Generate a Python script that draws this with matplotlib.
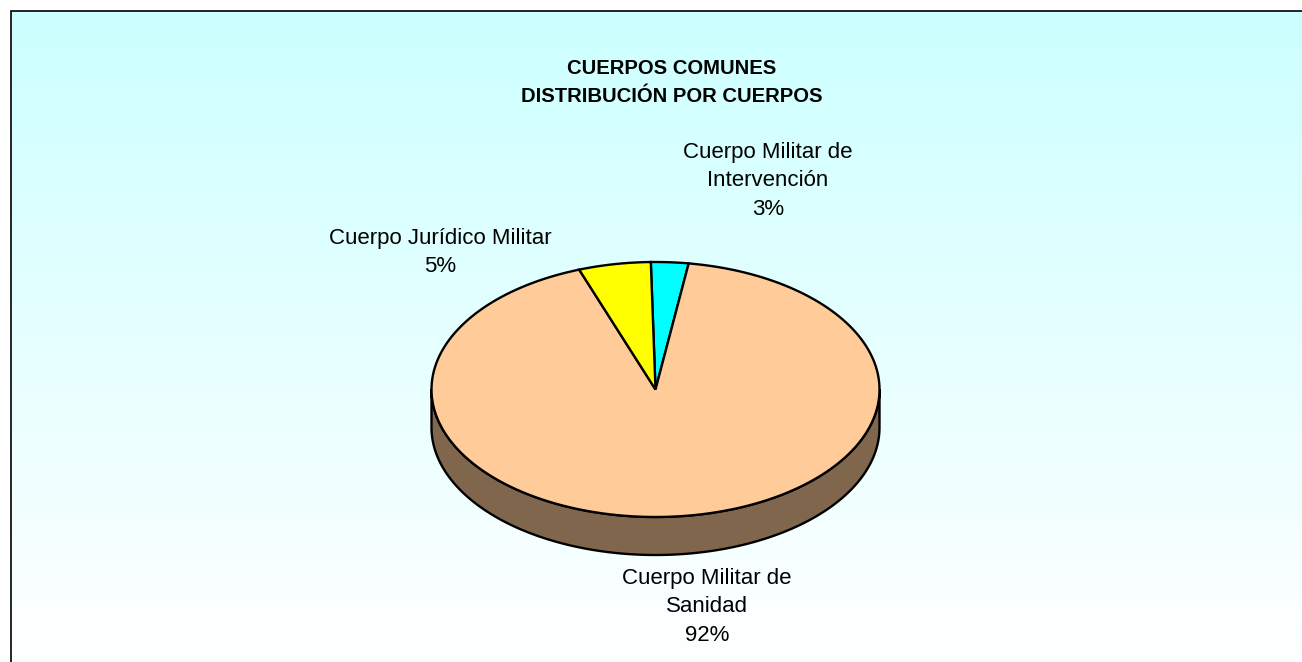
import numpy as np
import matplotlib.pyplot as plt
from matplotlib.patches import Polygon
from matplotlib.colors import to_rgb

plt.rcParams['font.family'] = ['Liberation Sans', 'DejaVu Sans']

# Data: shares, clockwise from 12 o'clock
categories = ['Cuerpo Militar de\nIntervención',
              'Cuerpo Militar de\nSanidad',
              'Cuerpo Jurídico Militar']
values = [2.7, 92.1, 5.2]
colors = ['#00FFFF', '#FFCC99', '#FFFF00']
title = 'CUERPOS COMUNES\nDISTRIBUCIÓN POR CUERPOS'

# Layout in pixels (y grows downwards)
W, H = 1302, 662
cx, cy = 655.5, 389.5
rx, ry = 224.0, 127.5
depth = 38
start_angle = -1.2          # degrees, clockwise from the top
label_pos = [(768, 158), (707, 584), (440, 244)]   # centre x, first baseline
line_step = 28.5
lw = 1.7


def ellipse_pts(a0, a1, dy=0.0, n=200):
    t = np.radians(np.linspace(a0, a1, n))
    return np.column_stack([cx + rx * np.sin(t), cy - ry * np.cos(t) + dy])


fig = plt.figure(figsize=(W / 100, H / 100), dpi=100)
ax = fig.add_axes([0, 0, 1, 1])
ax.set_xlim(0, W)
ax.set_ylim(H, 0)
ax.axis('off')

# background gradient, light cyan to white
g = np.linspace(0, 1, 256)[:, None, None]
top = np.array(to_rgb('#CCFFFF'))
img = top * (1 - g) + np.ones(3) * g
ax.imshow(img, extent=(11, W, H, 11), aspect='auto', interpolation='bilinear', zorder=0)
ax.plot([11, 11, W], [H, 11, 11], color='black', lw=1.2, solid_joinstyle='miter', zorder=1)

# wedge angles
spans = np.array(values) / sum(values) * 360
ends = start_angle + np.cumsum(spans)
starts = ends - spans

# side of the 3D pie (front half only)
for a0, a1, c in zip(starts, ends, colors):
    lo, hi = max(a0, 90), min(a1, 270)
    if lo < hi:
        side = np.vstack([ellipse_pts(lo, hi), ellipse_pts(hi, lo, dy=depth)])
        dark = tuple(np.array(to_rgb(c)) * 0.5)
        ax.add_patch(Polygon(side, closed=True, facecolor=dark, edgecolor='black',
                             lw=lw, joinstyle='round', zorder=2))

# top face
for a0, a1, c in zip(starts, ends, colors):
    pts = np.vstack([[cx, cy], ellipse_pts(a0, a1)])
    ax.add_patch(Polygon(pts, closed=True, facecolor=c, edgecolor='black',
                         lw=lw, joinstyle='miter', zorder=3))

# title
for i, line in enumerate(title.split('\n')):
    ax.text(672, 74 + i * 27.5, line, ha='center', va='baseline',
            fontsize=14.6, fontweight='bold', color='black', zorder=4)

# labels
total = sum(values)
for name, v, (x, y) in zip(categories, values, label_pos):
    lines = name.split('\n') + [f'{round(v / total * 100)}%']
    for i, line in enumerate(lines):
        ax.text(x, y + i * line_step, line, ha='center', va='baseline',
                fontsize=16, color='black', zorder=4)

fig.savefig('out.png', dpi=100)
